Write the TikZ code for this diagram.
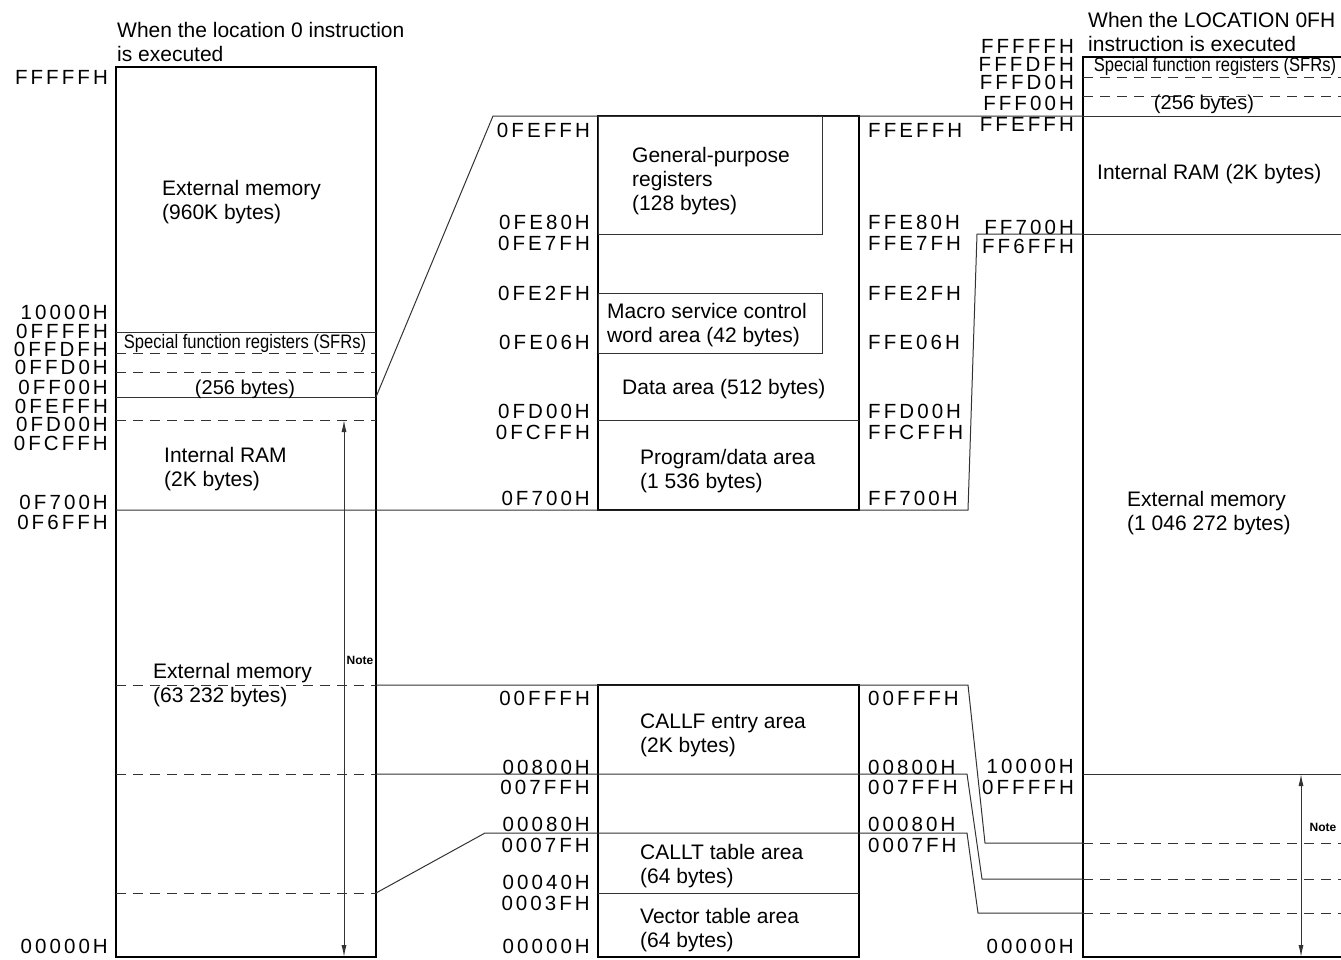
\documentclass[tikz,border=0pt]{standalone}
\usepackage{fontspec}
\setmainfont{Liberation Sans}
\newfontfamily\addrfont[LetterSpace=15]{Liberation Sans}
\newfontfamily\sfrfont[FakeStretch=0.85]{Liberation Sans}
\usetikzlibrary{positioning}
\usetikzlibrary{calc}
\usetikzlibrary{arrows.meta}

\tikzset{
  membox/.style={draw, line width=2.6pt, inner sep=0pt, outer sep=0pt, anchor=north west},
  memline/.style={line width=1pt, black!80},
  memdash/.style={memline, dash pattern=on 10pt off 7pt},
  addr/.style={font=\addrfont\fontsize{20.5}{20}\selectfont, inner sep=0pt},
  areatext/.style={align=left, inner sep=0pt, anchor=west},
  notetext/.style={font=\bfseries\fontsize{12}{14}\selectfont, inner sep=0pt},
  notearrow/.style={memline, {Latex[length=12pt,width=5pt]}-{Latex[length=12pt,width=5pt]}},
}

\begin{document}
\begin{tikzpicture} [x=1pt, y=-1pt, font=\fontsize{21}{24}\selectfont]
\useasboundingbox (0,0) rectangle (1341,959);

\node [membox, minimum width=260pt, minimum height=890pt] (L) at (116,67) {};
\node [membox, minimum width=261pt, minimum height=394pt] (M1) at (598,116) {};
\node [membox, minimum width=261pt, minimum height=272pt] (M2) at (598,685) {};
\node [membox, minimum width=300pt, minimum height=900pt] (R) at (1083,57) {};

\foreach \y in {332,397}
  \draw [memline] (116,\y) -- (376,\y);
\foreach \y in {353,372,420,685,774,893}
  \draw [memdash] (116,\y) -- (376,\y);
\draw [memline] (598,116) rectangle (822,234) (598,293) rectangle (822,353)
  (598,420) -- (859,420) (598,893) -- (859,893);
\foreach \y in {116,234,774}
  \draw [memline] (1083,\y) -- (1341,\y);
\foreach \y in {77,96,843,879,913}
  \draw [memdash] (1083,\y) -- (1341,\y);

\coordinate (Lsfr) at (376,397);
\coordinate (L700) at (116,510);
\coordinate (Lfff) at (376,685);
\coordinate (L800) at (376,774);
\coordinate (L080) at (376,893);
\coordinate (ka) at (493,116);
\coordinate (kb) at (485,833);
\coordinate (kc) at (968,510);
\coordinate (kd) at (977,234);
\coordinate (ke) at (968,685);
\coordinate (kf) at (985,843);
\coordinate (kg) at (967,774);
\coordinate (kh) at (982,879);
\coordinate (ki) at (967,833);
\coordinate (kj) at (978,913);

\draw [memline] (Lsfr) -- (ka) -- (R.west |- ka);
\draw [memline] (L700) -- (kc) -- (kd) -- (R.west |- kd);
\draw [memline] (Lfff) -- (ke) -- (kf) -- (R.west |- kf);
\draw [memline] (L800) -- (kg) -- (kh) -- (R.west |- kh);
\draw [memline] (L080) -- (kb) -- (ki) -- (kj) -- (R.west |- kj);

\coordinate (Lup) at (344,420);
\coordinate (Rup) at (1301,774);
\draw [notearrow] (Lup) -- (Lup |- L.south);
\draw [notearrow] (Rup) -- (Rup |- R.south);
\node [notetext] (Lnote) at (360,660) {Note};
\node [notetext] (Rnote) at (1323,827) {Note};

\foreach \a/\y [count=\i] in {FFFFFH/77, 10000H/312, 0FFFFH/331, 0FFDFH/349,
    0FFD0H/367, 0FF00H/387, 0FEFFH/406, 0FD00H/424, 0FCFFH/443, 0F700H/502,
    0F6FFH/522, 00000H/946}
  \node [addr, anchor=east] (la\i) at (108,\y) {\a};
\foreach \a/\y [count=\i] in {0FEFFH/130, 0FE80H/222, 0FE7FH/243, 0FE2FH/293,
    0FE06H/342, 0FD00H/411, 0FCFFH/432, 0F700H/498, 00FFFH/698, 00800H/767,
    007FFH/787, 00080H/824, 0007FH/845, 00040H/882, 0003FH/903, 00000H/946}
  \node [addr, anchor=east] (ma\i) at (590,\y) {\a};
\foreach \a/\y [count=\i] in {FFEFFH/130, FFE80H/222, FFE7FH/243, FFE2FH/293,
    FFE06H/342, FFD00H/411, FFCFFH/432, FF700H/498, 00FFFH/698, 00800H/767,
    007FFH/787, 00080H/824, 0007FH/845}
  \node [addr, anchor=west] (mb\i) at (868,\y) {\a};
\foreach \a/\y [count=\i] in {FFFFFH/46, FFFDFH/64, FFFD0H/82, FFF00H/103,
    FFEFFH/124, FF700H/227, FF6FFH/246, 10000H/766, 0FFFFH/787, 00000H/946}
  \node [addr, anchor=east] (ra\i) at (1074,\y) {\a};

\node [areatext] (Ltitle) at (117,42) {When the location 0 instruction\\is executed};
\node [areatext] (Lext) at (162,202) {External memory\\(960K bytes)};
\node [font=\sfrfont\fontsize{19.5}{20}\selectfont, inner sep=0pt] (Lsfrtext) at (245,343) {Special function registers (SFRs)};
\node [font=\fontsize{20}{22}\selectfont, inner sep=0pt] (Lsize) at (245,389) {(256 bytes)};
\node [areatext] (Lram) at (164,469) {Internal RAM\\(2K bytes)};
\node [areatext] (Lext2) at (153,685) {External memory\\(63 232 bytes)};

\node [areatext] (gpr) at (632,181) {General-purpose\\registers\\(128 bytes)};
\node [areatext] (msc) at (607,325) {Macro service control\\word area (42 bytes)};
\node [areatext] (data) at (622,389) {Data area (512 bytes)};
\node [areatext] (prog) at (640,471) {Program/data area\\(1 536 bytes)};
\node [areatext] (callf) at (640,735) {CALLF entry area\\(2K bytes)};
\node [areatext] (callt) at (640,866) {CALLT table area\\(64 bytes)};
\node [areatext] (vect) at (640,930) {Vector table area\\(64 bytes)};

\node [areatext] (Rtitle) at (1088,32) {When the LOCATION 0FH\\instruction is executed};
\node [font=\sfrfont\fontsize{19.5}{20}\selectfont, inner sep=0pt] (Rsfrtext) at (1215,66) {Special function registers (SFRs)};
\node [font=\fontsize{20}{22}\selectfont, inner sep=0pt] (Rsize) at (1204,104) {(256 bytes)};
\node [areatext] (Rram) at (1097,174) {Internal RAM (2K bytes)};
\node [areatext] (Rext) at (1127,513) {External memory\\(1 046 272 bytes)};

\end{tikzpicture}
\end{document}
